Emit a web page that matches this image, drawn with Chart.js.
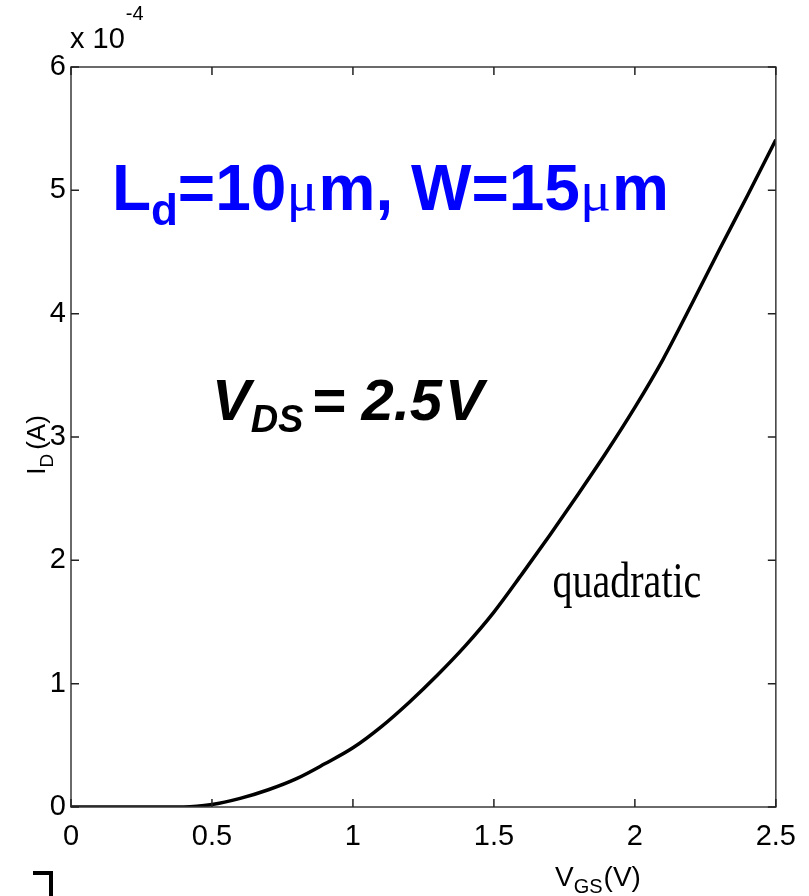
<!DOCTYPE html>
<html>
<head>
<meta charset="utf-8">
<script src="https://cdn.jsdelivr.net/npm/chart.js@4/dist/chart.umd.min.js"></script>
<style>
  html, body { margin: 0; padding: 0; background: #fff; }
  #wrap { width: 809px; height: 896px; position: relative; }
</style>
</head>
<body>
<div id="wrap"><canvas id="id-vgs"></canvas></div>
<script>
// V_GS sweep (V) and drain current in units of 1e-4 A
const vgs = [0, 0.1, 0.2, 0.3, 0.4, 0.5, 0.6, 0.7, 0.8, 0.9, 1.0, 1.1, 1.2, 1.3,
             1.4, 1.5, 1.6, 1.7, 1.8, 1.9, 2.0, 2.1, 2.2, 2.3, 2.4, 2.5];
const idE4 = [0, 0, 0, 0, 0, 0.02, 0.07, 0.14, 0.23, 0.35, 0.48, 0.65, 0.85, 1.07,
              1.31, 1.58, 1.89, 2.21, 2.54, 2.88, 3.24, 3.63, 4.07, 4.52, 4.96, 5.41];
const xTicks = [0, 0.5, 1, 1.5, 2, 2.5];
const xTickLabels = ["0", "0.5", "1", "1.5", "2", "2.5"];
const yTicks = [0, 1, 2, 3, 4, 5, 6];
const yTickLabels = ["0", "1", "2", "3", "4", "5", "6"];

const SANS = '"Liberation Sans", Arial, sans-serif';
const SERIF = '"Liberation Serif", "Times New Roman", serif';

function runsWidth(ctx, runs) {
  let w = 0;
  for (const r of runs) { ctx.font = r.font; w += ctx.measureText(r.text).width + (r.gap || 0); }
  return w;
}

function drawRuns(ctx, x, y, runs) {
  for (const r of runs) {
    ctx.font = r.font;
    ctx.fillStyle = r.color || "#000";
    ctx.fillText(r.text, x, y + (r.dy || 0));
    x += ctx.measureText(r.text).width + (r.gap || 0);
  }
}

const matlabBox = {
  id: "matlabBox",
  afterDraw(chart) {
    const { ctx, chartArea: a, scales: { x, y } } = chart;
    ctx.save();
    ctx.textBaseline = "alphabetic";
    ctx.textAlign = "left";

    // axes box
    ctx.strokeStyle = "#3a3a3a";
    ctx.lineWidth = 1.5;
    ctx.strokeRect(a.left, a.top, a.right - a.left, a.bottom - a.top);

    // inward tick marks on all four sides
    ctx.strokeStyle = "#222";
    ctx.lineWidth = 1.5;
    ctx.beginPath();
    for (const v of xTicks) {
      const px = x.getPixelForValue(v);
      ctx.moveTo(px, a.bottom); ctx.lineTo(px, a.bottom - 8);
      ctx.moveTo(px, a.top); ctx.lineTo(px, a.top + 8);
    }
    for (const v of yTicks) {
      const py = y.getPixelForValue(v);
      ctx.moveTo(a.left, py); ctx.lineTo(a.left + 8, py);
      ctx.moveTo(a.right, py); ctx.lineTo(a.right - 8, py);
    }
    ctx.stroke();

    // exponent of y axis
    drawRuns(ctx, a.left - 1, a.top - 19, [
      { text: "x 10", font: `29px ${SANS}`, gap: 1 },
      { text: "-4", font: `20px ${SANS}`, dy: -28 },
    ]);

    // x axis title
    drawRuns(ctx, 555, 886, [
      { text: "V", font: `28px ${SANS}` },
      { text: "GS", font: `20px ${SANS}`, dy: 7, gap: 1 },
      { text: "(V)", font: `28px ${SANS}` },
    ]);

    // y axis title, rotated
    const yt = [
      { text: "I", font: `26px ${SANS}` },
      { text: "D", font: `19px ${SANS}`, dy: 8, gap: 4 },
      { text: "(A)", font: `26px ${SANS}` },
    ];
    ctx.save();
    ctx.translate(45, 445);
    ctx.rotate(-Math.PI / 2);
    drawRuns(ctx, -runsWidth(ctx, yt) / 2, 0, yt);
    ctx.restore();

    // blue device label
    const blue = "#0000ff";
    drawRuns(ctx, x.getPixelForValue(0.145), y.getPixelForValue(4.84), [
      { text: "L", font: `bold 64px ${SANS}`, color: blue },
      { text: "d", font: `bold 44px ${SANS}`, color: blue, dy: 15 },
      { text: "=10", font: `bold 64px ${SANS}`, color: blue },
      { text: "\u03bc", font: `58px ${SERIF}`, color: blue, gap: 1 },
      { text: "m, W=15", font: `bold 64px ${SANS}`, color: blue },
      { text: "\u03bc", font: `58px ${SERIF}`, color: blue, gap: 1 },
      { text: "m", font: `bold 64px ${SANS}`, color: blue },
    ]);

    // bias label
    drawRuns(ctx, x.getPixelForValue(0.50), y.getPixelForValue(3.14), [
      { text: "V", font: `italic bold 58px ${SANS}` },
      { text: "DS", font: `italic bold 38px ${SANS}`, dy: 12, gap: 8 },
      { text: "= 2.5", font: `italic bold 58px ${SANS}`, gap: 3 },
      { text: "V", font: `italic bold 58px ${SANS}` },
    ]);

    // curve annotation (slightly tall serif)
    ctx.save();
    ctx.translate(x.getPixelForValue(1.708), y.getPixelForValue(1.70));
    ctx.scale(1, 1.25);
    drawRuns(ctx, 0, 0, [{ text: "quadratic", font: `40px ${SERIF}` }]);
    ctx.restore();

    // small bracket mark at the lower left
    ctx.strokeStyle = "#000";
    ctx.lineWidth = 4;
    ctx.beginPath();
    ctx.moveTo(33, 873); ctx.lineTo(51, 873); ctx.lineTo(51, 896);
    ctx.stroke();

    ctx.restore();
  }
};

new Chart(document.getElementById("id-vgs"), {
  type: "line",
  data: {
    datasets: [{
      data: vgs.map((v, i) => ({ x: v, y: idE4[i] })),
      borderColor: "#000",
      borderWidth: 3.5,
      pointRadius: 0,
      cubicInterpolationMode: "monotone",
      fill: false,
    }],
  },
  options: {
    responsive: true,
    maintainAspectRatio: false,
    animation: false,
    events: [],
    layout: { padding: { left: 0, top: 67, right: 33, bottom: 0 } },
    plugins: { legend: { display: false }, tooltip: { enabled: false } },
    scales: {
      x: {
        type: "linear",
        min: 0, max: 2.5,
        afterBuildTicks: s => { s.ticks = xTicks.map(v => ({ value: v })); },
        afterFit: s => { s.height = 89; },
        grid: { display: false, drawTicks: false },
        border: { display: false },
        ticks: {
          color: "#000", font: { family: SANS, size: 29 }, padding: 13, maxRotation: 0,
          callback: (v, i) => xTickLabels[i],
        },
      },
      y: {
        type: "linear",
        min: 0, max: 6,
        afterBuildTicks: s => { s.ticks = yTicks.map(v => ({ value: v })); },
        afterFit: s => { s.width = 71; },
        grid: { display: false, drawTicks: false },
        border: { display: false },
        ticks: {
          color: "#000", font: { family: SANS, size: 29 }, padding: 5,
          callback: (v, i) => yTickLabels[i],
        },
      },
    },
  },
  plugins: [matlabBox],
});
</script>
</body>
</html>
